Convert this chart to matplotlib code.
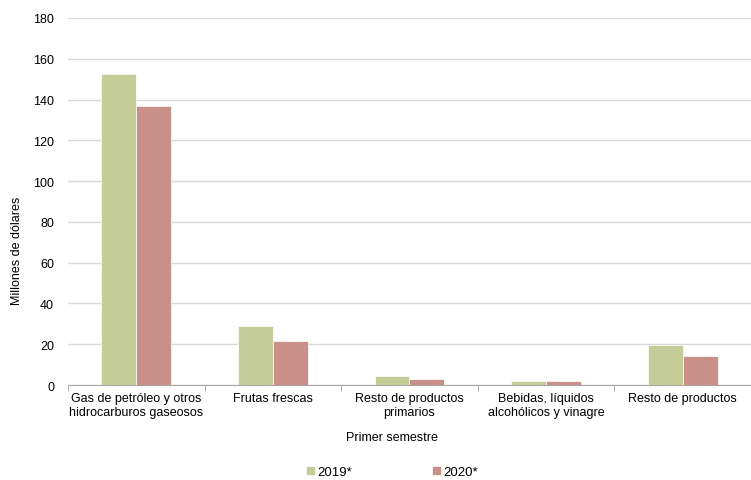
import numpy as np
import matplotlib
matplotlib.use("Agg")
import matplotlib.pyplot as plt

plt.rcParams["font.family"] = ["Liberation Sans", "DejaVu Sans"]

# data
categories = ["Gas de petróleo y otros\nhidrocarburos gaseosos", "Frutas frescas",
              "Resto de productos\nprimarios", "Bebidas, líquidos\nalcohólicos y vinagre",
              "Resto de productos"]
v2019 = [152.7, 28.8, 4.6, 2.0, 19.8]
v2020 = [136.8, 21.4, 2.9, 2.0, 14.2]
series_names = ["2019*", "2020*"]

c2019 = "#C4CD97"
c2020 = "#C9908A"

fig = plt.figure(figsize=(7.51, 4.81), dpi=100)
ax = fig.add_axes([0.0905, 0.1975, 0.9095, 0.763])

x = np.arange(len(categories))
w = 0.255
ax.bar(x - w/2, v2019, w, color=c2019, edgecolor="white", linewidth=0.5, label=series_names[0], zorder=3)
ax.bar(x + w/2, v2020, w, color=c2020, edgecolor="white", linewidth=0.5, label=series_names[1], zorder=3)

ax.set_xlim(-0.5, len(categories) - 0.5)
ax.set_ylim(0, 180)
ax.set_yticks(np.arange(0, 181, 20))
ax.yaxis.grid(True, color="#D9D9D9", linewidth=1, zorder=0)
ax.set_axisbelow(True)

ax.set_xticks(x)
ax.set_xticklabels(categories, fontsize=9)
ax.set_xticks(np.arange(-0.5, len(categories), 1), minor=True)
ax.tick_params(axis="x", which="major", length=0, pad=5)
ax.tick_params(axis="x", which="minor", length=4, color="#A6A6A6")
ax.tick_params(axis="y", length=0, labelsize=9, pad=10)

for s in ["top", "right", "left"]:
    ax.spines[s].set_visible(False)
ax.spines["bottom"].set_color("#A6A6A6")

ax.set_ylabel("Millones de dólares", fontsize=9)
ax.yaxis.set_label_coords(-0.066, 0.368)
fig.text(0.522, 1 - 438/481, "Primer semestre", fontsize=9, ha="center", va="center")

fig.legend(loc="center", bbox_to_anchor=(0.522, 1 - 473/481), ncol=2, frameon=False,
           fontsize=9.5, handlelength=0.7, handleheight=0.7, handletextpad=0.2,
           columnspacing=6.0)

fig.savefig("out.png", dpi=100)
